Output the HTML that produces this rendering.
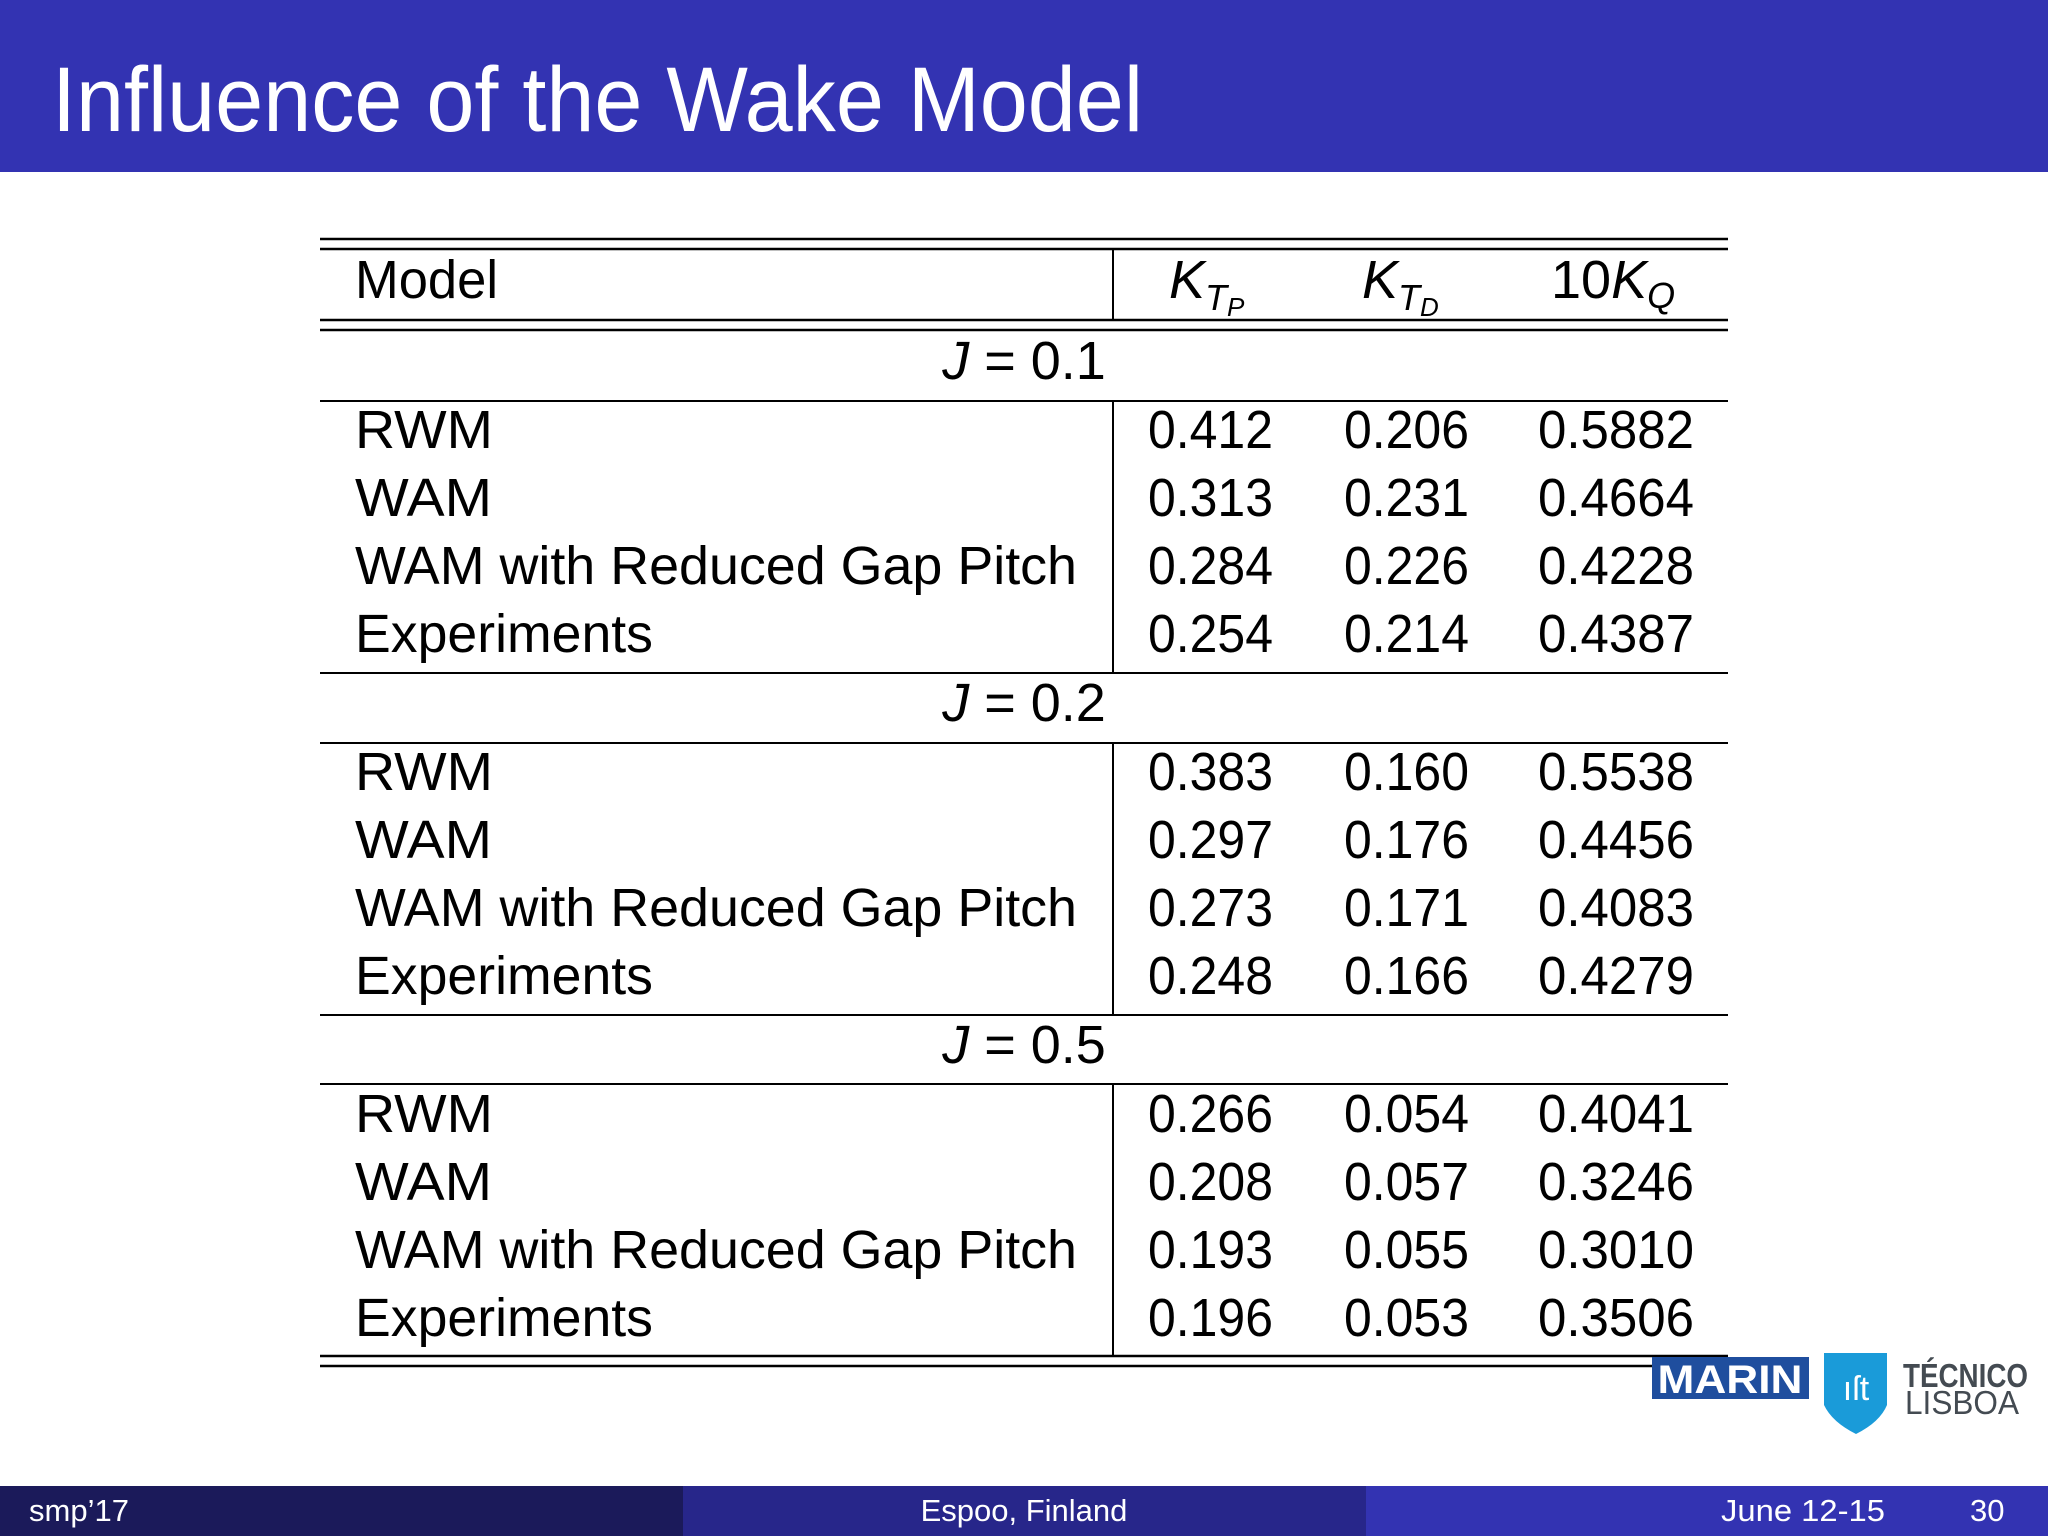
<!DOCTYPE html>
<html><head><meta charset="utf-8"><style>
html,body{margin:0;padding:0;background:#fff}
svg{display:block}
text{font-family:"Liberation Sans",sans-serif}
</style></head><body>
<svg width="2048" height="1536" viewBox="0 0 2048 1536" xmlns="http://www.w3.org/2000/svg">
<rect x="0" y="0" width="2048" height="172" fill="#3333b2"/>
<text x="52" y="131" font-size="92" fill="#fff" textLength="1091" lengthAdjust="spacingAndGlyphs">Influence of the Wake Model</text>

<g id="table" stroke="#000">
<line x1="320" y1="239" x2="1728" y2="239" stroke-width="2.5"/>
<line x1="320" y1="249" x2="1728" y2="249" stroke-width="2.5"/>
<line x1="320" y1="320" x2="1728" y2="320" stroke-width="2.5"/>
<line x1="320" y1="330" x2="1728" y2="330" stroke-width="2.5"/>
<line x1="320" y1="401" x2="1728" y2="401" stroke-width="2"/>
<line x1="320" y1="673" x2="1728" y2="673" stroke-width="2"/>
<line x1="320" y1="743" x2="1728" y2="743" stroke-width="2"/>
<line x1="320" y1="1015" x2="1728" y2="1015" stroke-width="2"/>
<line x1="320" y1="1084" x2="1728" y2="1084" stroke-width="2"/>
<line x1="320" y1="1356" x2="1728" y2="1356" stroke-width="2.5"/>
<line x1="320" y1="1366" x2="1728" y2="1366" stroke-width="2.5"/>
<line x1="1113" y1="249" x2="1113" y2="320" stroke-width="2"/>
<line x1="1113" y1="401" x2="1113" y2="673" stroke-width="2"/>
<line x1="1113" y1="743" x2="1113" y2="1015" stroke-width="2"/>
<line x1="1113" y1="1084" x2="1113" y2="1356" stroke-width="2"/>
</g>
<g font-size="54" fill="#000">
<text x="355" y="298" textLength="143" lengthAdjust="spacingAndGlyphs">Model</text>
<text x="1169" y="298" font-style="italic">K<tspan font-size="36" dy="12">T</tspan><tspan font-size="26" dy="6">P</tspan></text>
<text x="1362" y="298" font-style="italic">K<tspan font-size="36" dy="12">T</tspan><tspan font-size="26" dy="6">D</tspan></text>
<text x="1551" y="298">10<tspan font-style="italic">K</tspan><tspan font-size="36" dy="10" font-style="italic">Q</tspan></text>
</g>
<g id="body" font-size="54" fill="#000"></g>

<g>
<rect x="1652" y="1357" width="157" height="42" fill="#1f4e9e"/>
<text x="1730" y="1393" font-size="40" font-weight="bold" fill="#fff" text-anchor="middle" font-family="Liberation Serif" textLength="145" lengthAdjust="spacingAndGlyphs">MARIN</text>
</g>
<g>
<path d="M1824,1353 L1887,1353 L1887,1405 Q1880,1422 1856,1434 Q1832,1422 1824,1405 Z" fill="#1a9bd9"/>
<text x="1856" y="1400" font-size="34" fill="#fff" text-anchor="middle" font-family="Liberation Serif">ıſt</text>
<text x="1903" y="1387" font-size="33" font-weight="bold" fill="#444b52" textLength="125" lengthAdjust="spacingAndGlyphs">TÉCNICO</text>
<text x="1905" y="1414" font-size="33" fill="#444b52" textLength="114" lengthAdjust="spacingAndGlyphs">LISBOA</text>
</g>

<g>
<rect x="0" y="1486" width="683" height="50" fill="#1b1a5a"/>
<rect x="683" y="1486" width="683" height="50" fill="#27268a"/>
<rect x="1366" y="1486" width="682" height="50" fill="#3333b2"/>
<text x="29" y="1521" font-size="31" fill="#fff">smp’17</text>
<text x="1024" y="1521" font-size="31" fill="#fff" text-anchor="middle">Espoo, Finland</text>
<text x="1721" y="1521" font-size="31" fill="#fff" textLength="164" lengthAdjust="spacingAndGlyphs">June 12-15</text>
<text x="1970" y="1521" font-size="31" fill="#fff">30</text>
</g>
</svg>
<script>
const groups = ["J = 0.1","J = 0.2","J = 0.5"];
const models = ["RWM","WAM","WAM with Reduced Gap Pitch","Experiments"];
const ktp = [[0.412,0.313,0.284,0.254],[0.383,0.297,0.273,0.248],[0.266,0.208,0.193,0.196]];
const ktd = [[0.206,0.231,0.226,0.214],[0.160,0.176,0.171,0.166],[0.054,0.057,0.055,0.053]];
const kq = [[0.5882,0.4664,0.4228,0.4387],[0.5538,0.4456,0.4083,0.4279],[0.4041,0.3246,0.3010,0.3506]];
const NS="http://www.w3.org/2000/svg";
const body=document.getElementById('body');
const groupBase=[379,721,1063], rowStart=[448,790,1132], rowH=68;
const modelW=[138,137,722,298];
function t(x,y,s,w,anchor){const e=document.createElementNS(NS,'text');e.setAttribute('x',x);e.setAttribute('y',y);e.textContent=s;if(w){e.setAttribute('textLength',w);e.setAttribute('lengthAdjust','spacingAndGlyphs');}if(anchor)e.setAttribute('text-anchor',anchor);body.appendChild(e);return e;}
groups.forEach((g,gi)=>{
  const e=document.createElementNS(NS,'text');
  e.setAttribute('x',1024);e.setAttribute('y',groupBase[gi]);e.setAttribute('text-anchor','middle');
  e.innerHTML='<tspan font-style="italic">J</tspan> = '+g.split('= ')[1];
  
  
  body.appendChild(e);
  models.forEach((m,mi)=>{
    const y=rowStart[gi]+mi*rowH;
    const a=t(355,y,m,modelW[mi]);
    
    
    const b=t(1148,y,ktp[gi][mi].toFixed(3),125);
    
    
    const c=t(1344,y,ktd[gi][mi].toFixed(3),125);
    
    
    const d=t(1538,y,kq[gi][mi].toFixed(4),156);
    
    
  });
});
</script>
</body></html>
